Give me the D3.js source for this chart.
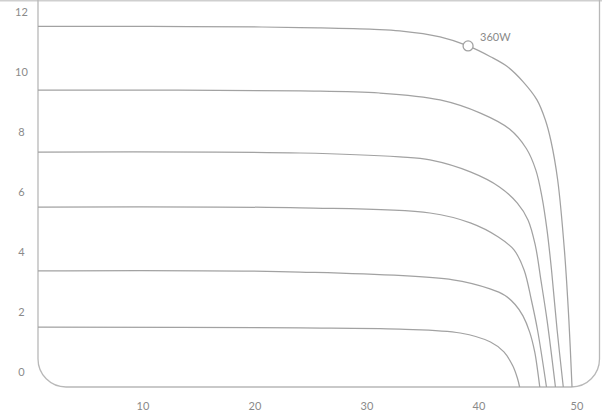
<!DOCTYPE html>
<html>
<head>
<meta charset="utf-8">
<script src="https://cdn.jsdelivr.net/npm/d3@7"></script>
<style>
  html, body { margin: 0; padding: 0; background: #fff; }
  svg { display: block; }
  text { font-family: Lato, "Open Sans", sans-serif; fill: #8a8a8a; }
</style>
</head>
<body>
<svg id="chart" width="602" height="415"></svg>
<script>
// Tick labels
const xTicks = [10, 20, 30, 40, 50];
const yTicks = [0, 2, 4, 6, 8, 10, 12];

// I-V curves: voltage (V) and current (A)
const curve360V = [0, 10, 20, 25, 30, 32.3, 35.9, 38.4, 40.4, 41.9, 43.3, 44.55, 45.3, 45.8, 46.4, 47.0, 47.4, 47.68];
const curve360I = [12.02, 12.02, 12.0, 11.97, 11.92, 11.87, 11.67, 11.37, 11.01, 10.68, 10.18, 9.57, 8.9, 8.2, 6.9, 4.57, 2.23, 0];

const curve2V = [0, 23.4, 30.5, 35.9, 39.5, 42.1, 43.6, 44.45, 45.0, 45.45, 45.85, 46.35, 46.9];
const curve2I = [9.9, 9.87, 9.8, 9.57, 9.13, 8.6, 7.95, 7.23, 6.33, 5.23, 3.9, 1.9, 0];

const curve3V = [0, 23.4, 32.3, 35.0, 38.6, 41.2, 42.8, 43.75, 44.4, 44.9, 45.45, 46.2];
const curve3I = [7.83, 7.8, 7.67, 7.57, 7.17, 6.67, 6.13, 5.57, 4.73, 3.57, 2.23, 0];

const curve4V = [0, 23.4, 35.0, 38.6, 41.1, 42.5, 43.4, 44.05, 44.6, 45.4];
const curve4I = [6.0, 5.97, 5.8, 5.47, 5.0, 4.57, 3.9, 2.9, 1.9, 0];

const curve5V = [0, 23.4, 37.05, 40.36, 41.7, 42.6, 43.3, 43.9, 44.35, 44.6, 44.8];
const curve5I = [3.87, 3.83, 3.57, 3.27, 3.05, 2.75, 2.37, 1.83, 1.17, 0.57, 0];

const curve6V = [0, 23.4, 32.3, 37.7, 40.4, 41.6, 42.4, 42.8, 43.0];
const curve6I = [2.0, 1.97, 1.93, 1.8, 1.5, 1.17, 0.7, 0.3, 0];

// Maximum power point and its label
const mppV = 38.4, mppI = 11.37, mppLabel = "360W";

const curves = [
  [curve360V, curve360I], [curve2V, curve2I], [curve3V, curve3I],
  [curve4V, curve4I], [curve5V, curve5I], [curve6V, curve6I]
];

const W = 602, H = 415;
const svg = d3.select("#chart");

const x = d3.scaleLinear().domain([0, 50]).range([38, 598]);
const y = d3.scaleLinear().domain([0, 12]).range([387, 27]);

// top border line
svg.append("line")
  .attr("x1", 0).attr("x2", W).attr("y1", 0.5).attr("y2", 0.5)
  .attr("stroke", "#cfcfcf").attr("stroke-width", 2);

// frame: left, rounded bottom corners, right
const r = 28;
const fl = x(0), fr = 599.5, fb = y(0);
const framePath = d3.path();
framePath.moveTo(fl, 0);
framePath.lineTo(fl, fb - r);
framePath.arcTo(fl, fb, fl + r, fb, r);
framePath.lineTo(fr - r, fb);
framePath.arcTo(fr, fb, fr, fb - r, r);
framePath.lineTo(fr, 0);
svg.append("path")
  .attr("d", framePath.toString())
  .attr("fill", "none")
  .attr("stroke", "#b8b8b8")
  .attr("stroke-width", 1.3);

// curves
const line = d3.line()
  .x(d => x(d[0]))
  .y(d => y(d[1]))
  .curve(d3.curveCatmullRom.alpha(0.5));

curves.forEach(([vs, is]) => {
  const pts = vs.map((v, i) => [v, is[i]]);
  svg.append("path")
    .attr("d", line(pts))
    .attr("fill", "none")
    .attr("stroke", "#a2a2a2")
    .attr("stroke-width", 1.25);
});

// MPP marker
svg.append("circle")
  .attr("cx", x(mppV)).attr("cy", y(mppI)).attr("r", 5)
  .attr("fill", "#fff").attr("stroke", "#a2a2a2").attr("stroke-width", 1.3);
svg.append("text")
  .attr("x", x(mppV) + 12).attr("y", y(mppI) - 8)
  .attr("dominant-baseline", "middle")
  .attr("font-size", 11)
  .text(mppLabel);

// y tick labels
svg.append("g").selectAll("text").data(yTicks).join("text")
  .attr("x", 21.5)
  .attr("y", d => y(d) - 14)
  .attr("text-anchor", "middle")
  .attr("dominant-baseline", "middle")
  .attr("font-size", 11)
  .text(d => d);

// x tick labels
svg.append("g").selectAll("text").data(xTicks).join("text")
  .attr("x", d => Math.min(x(d) - 7, W - 25))
  .attr("y", 407)
  .attr("text-anchor", "middle")
  .attr("dominant-baseline", "middle")
  .attr("font-size", 11)
  .text(d => d);
</script>
</body>
</html>
